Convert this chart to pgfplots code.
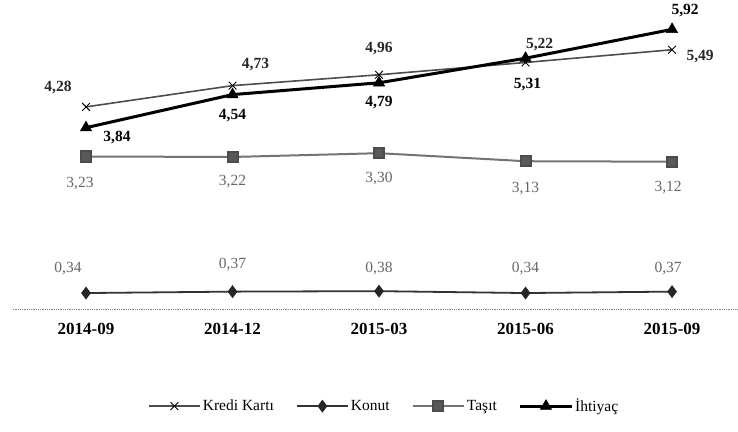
\documentclass[border=0pt]{standalone}
\usepackage{fontspec}
\setmainfont{Liberation Serif}
\usepackage{pgfplots}
\pgfplotsset{compat=1.18}
\usepackage{pgfplotstable}

\pgfplotstableread{
x y dx dy
0 4.28 -28 19
1 4.73 23 21
2 4.96 0 26
3 5.22 14 18
4 5.49 28 -7
}\kredi
\pgfplotstableread{
x y dx dy
0 0.34 -18 24
1 0.37 0 27
2 0.38 0 23
3 0.34 0 24
4 0.37 -4 23
}\konut
\pgfplotstableread{
x y dx dy
0 3.23 -6 -27
1 3.22 0 -25
2 3.30 0 -25
3 3.13 0 -27
4 3.12 -4 -26
}\tasit
\pgfplotstableread{
x y dx dy
0 3.84 31 -10
1 4.54 0 -21
2 4.79 0 -20
3 5.31 2 -26
4 5.92 13 19
}\ihtiyac

\begin{document}
\begin{tikzpicture}
\begin{axis}[
  scale only axis, width=725pt, height=307pt,
  xmin=-0.5, xmax=4.45, ymin=0, ymax=6.5,
  axis x line=bottom, axis y line=none,
  axis line style={black!50, densely dotted, line width=0.8pt, -},
  xtick={0,1,2,3,4},
  xticklabels={2014-09,2014-12,2015-03,2015-06,2015-09},
  xtick style={draw=none}, ytick=\empty,
  xticklabel style={font=\bfseries\fontsize{17}{17}\selectfont, yshift=-8pt},
  clip=false,
  nodes near coords={\pgfmathprintnumber[assume math mode=true,use comma,fixed,fixed zerofill,precision=2]{\pgfplotspointmeta}},
  visualization depends on={\thisrow{dx}\as\dx},
  visualization depends on={\thisrow{dy}\as\dy},
  nodes near coords style={anchor=center, xshift=\dx pt, yshift=\dy pt},
  legend columns=4,
  legend style={draw=none, at={(axis description cs:0.512,-0.316)}, anchor=center,
    font=\fontsize{15.5}{15.5}\selectfont,
    /tikz/every even column/.append style={column sep=20pt}},
  legend image code/.code={\draw[mark repeat=2,mark phase=2,#1] plot coordinates {(0cm,0cm) (0.9cm,0cm) (1.8cm,0cm)};},
]
\addplot[black!70, line width=1.6pt, mark=x, mark size=5.5pt, mark options={line width=0.9pt, black},
  every node near coord/.append style={font=\bfseries\fontsize{15.5}{15.5}\selectfont, text=black!85}]
  table[x=x,y=y] {\kredi};
\addlegendentry{Kredi Kartı}
\addplot[black!80, line width=1.8pt, mark=diamond*, mark size=5pt, mark options={fill=black!85, draw=black!85},
  every node near coord/.append style={font=\fontsize{15.5}{15.5}\selectfont, text=black!60}]
  table[x=x,y=y] {\konut};
\addlegendentry{Konut}
\addplot[black!55, line width=2pt, mark=square*, mark size=5pt, mark options={fill=black!65, draw=black!70},
  every node near coord/.append style={font=\fontsize{15.5}{15.5}\selectfont, text=black!60}]
  table[x=x,y=y] {\tasit};
\addlegendentry{Taşıt}
\addplot[black, line width=3pt, mark=triangle*, mark size=6.5pt, mark options={fill=black, line width=0.5pt},
  every node near coord/.append style={font=\bfseries\fontsize{15.5}{15.5}\selectfont, text=black}]
  table[x=x,y=y] {\ihtiyac};
\addlegendentry{İhtiyaç}
\end{axis}
\pgfresetboundingbox
\path ([shift={(-12.75pt,-122pt)}]current axis.south west) rectangle ([shift={(0pt,2pt)}]current axis.north east);
\end{tikzpicture}
\end{document}
